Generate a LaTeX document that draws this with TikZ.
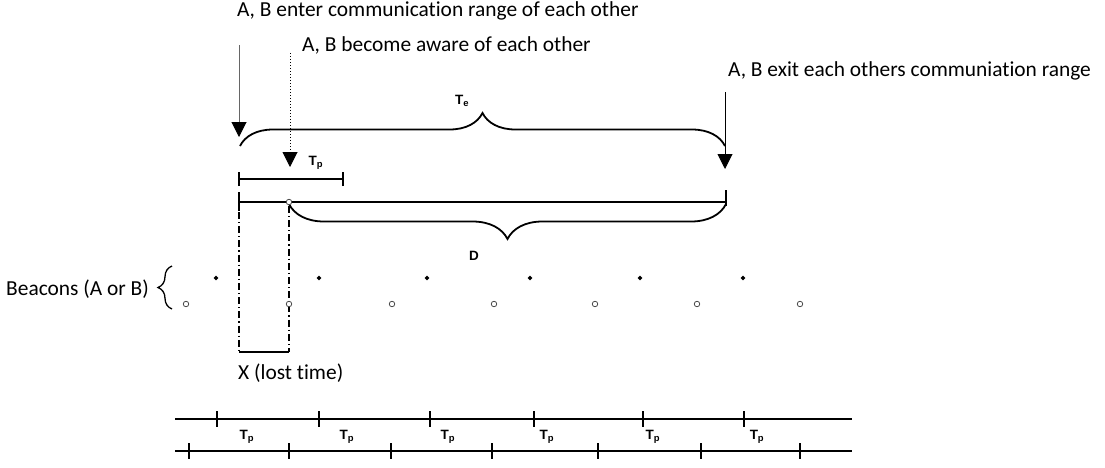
\documentclass[tikz,border=0pt]{standalone}
\usepackage{fontspec}
\setmainfont{Carlito}[Ligatures=NoCommon]
\newfontfamily\arialf{Liberation Sans}
\usetikzlibrary{decorations.pathreplacing,arrows.meta,shapes.geometric}
\tikzset{
  lbl/.style={anchor=west,inner sep=0pt,font=\fontsize{21.4}{23}\selectfont},
  sub/.style={inner sep=0pt,font=\arialf\bfseries\fontsize{13.5}{14}\selectfont},
  bigarrow/.style={-{Triangle[length=15pt,width=15pt,color=black,fill=black]}},
  bracestyle/.style={decorate,decoration={brace,amplitude=#1},line width=1.8pt},
  tickline/.style={line width=1.8pt},
  dashdot2/.style={line width=1.6pt,dash pattern=on 7pt off 3pt on 1.2pt off 3pt},
  beaconA/.style={diamond,fill=black,inner sep=0pt,minimum size=5pt},
  beaconB/.style={circle,draw=black!70,fill=white,line width=0.8pt,inner sep=0pt,minimum size=5.5pt},
}
\begin{document}
\begin{tikzpicture}[x=1pt,y=-1pt]
\useasboundingbox (0,0) rectangle (1105,467);
% labels
\node[lbl] (enter) at (237,11) {A, B enter communication range of each other};
\node[lbl] (aware) at (302,45) {A, B become aware of each other};
\node[lbl] (exit) at (728,71) {A, B exit each others communiation range};
% arrows
\coordinate (a1s) at (239,45); \coordinate (a1e) at (239,137);
\coordinate (a2s) at (290,53); \coordinate (a2e) at (290,167);
\coordinate (a3s) at (725,92); \coordinate (a3e) at (725,169);
\draw[bigarrow,black!60,line width=1pt] (a1s) -- (a1e);
\draw[bigarrow,dotted,line width=1pt] (a2s) -- (a2e);
\draw[bigarrow,line width=0.9pt] (a3s) -- (a3e);
% Te brace
\coordinate (te1) at (240,146); \coordinate (te2) at (725,146);
\draw[bracestyle=33pt] (te1) -- (te2);
\node[sub] (Te) at (462,101) {T\textsubscript{e}};
% Tp interval
\coordinate (tp1) at (239,179); \coordinate (tp2) at (343,179);
\draw[tickline] (tp1) -- (tp2);
\draw[tickline] ([yshift=-7pt]tp1) -- ([yshift=7pt]tp1);
\draw[tickline] ([yshift=-7pt]tp2) -- ([yshift=7pt]tp2);
\node[sub] (Tp) at (316,163) {T\textsubscript{p}};
% main line
\coordinate (m1) at (239,202); \coordinate (m2) at (726,202);
\draw[tickline] (m1) -- (m2);
\draw[tickline] (239,192) -- (239,211);
\draw[tickline] (726,190) -- (726,206);
% D brace
\coordinate (d1) at (726,204); \coordinate (d2) at (289,204);
\draw[bracestyle=35pt] (d1) -- (d2);
\node[beaconB] (aw) at (289,202) {};
\node[sub] (D) at (474,256) {D};
% lost time box
\coordinate (x1t) at (239,212); \coordinate (x1b) at (239,352);
\coordinate (x2t) at (289,206); \coordinate (x2b) at (289,352);
\draw[dashdot2] (x1t) -- (x1b);
\draw[dashdot2] (x2t) -- (x2b);
\draw[line width=1.6pt] (x1b) -- (x2b);
\node[lbl] (lost) at (238,373) {X (lost time)};
% beacons
\node[lbl,anchor=east] (bea) at (149,289) {Beacons (A or B)};
\coordinate (bb1) at (172,309); \coordinate (bb2) at (172,266);
\draw[decorate,decoration={brace,amplitude=14pt},line width=1.3pt] (bb1) -- (bb2);
\foreach \x [count=\i] in {216,319,427,530,640,743} \node[beaconA] (fa\i) at (\x,278) {};
\foreach \x [count=\i] in {186,289,392,494,595,697,800} \node[beaconB] (ob\i) at (\x,304) {};
% bottom timelines
\coordinate (l1s) at (175,419); \coordinate (l1e) at (852,419);
\coordinate (l2s) at (175,451); \coordinate (l2e) at (852,451);
\draw[tickline] (l1s) -- (l1e);
\draw[tickline] (l2s) -- (l2e);
\foreach \x in {217,319,430,534,643,744} \draw[tickline] (\x,411) -- (\x,427);
\foreach \x in {189,289,391,492,598,701,800} \draw[tickline] (\x,443) -- (\x,459);
\foreach \x [count=\i] in {247,347,448,547,653,757} \node[sub] (bt\i) at (\x,437) {T\textsubscript{p}};
\end{tikzpicture}
\end{document}
